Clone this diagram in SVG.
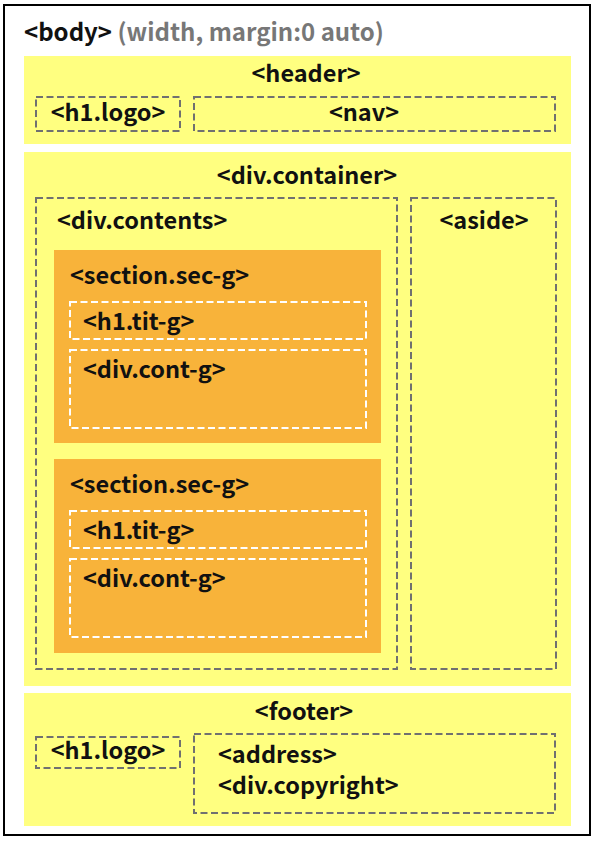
<svg xmlns="http://www.w3.org/2000/svg" width="595" height="842" viewBox="0 0 595 842">
<style>
text{font-family:"Noto Sans CJK KR","Noto Sans",sans-serif;font-weight:bold;font-size:23.5px;fill:#111}
.y{fill:#FFFF80}
.o{fill:#F8B33A}
.d{fill:none;stroke:#707070;stroke-width:2;stroke-dasharray:7 3.5}
.w{fill:none;stroke:#fff;stroke-width:2;stroke-dasharray:7 3.5}
.c{text-anchor:middle}
</style>
<rect x="0" y="0" width="595" height="842" fill="#fff"/>
<g id="body">
<rect x="4" y="5" width="586" height="830" fill="#fff" stroke="#000" stroke-width="2"/>
<text x="24" y="41" style="font-size:24px">&lt;body&gt; <tspan fill="#777">(width, margin:0 auto)</tspan></text>
</g>
<g id="header">
<rect class="y" x="24" y="56" width="547" height="88"/>
<text class="c" x="306" y="82">&lt;header&gt;</text>
</g>
<g id="header-logo">
<rect class="d" x="36" y="97" width="144" height="34"/>
<text class="c" x="108" y="121">&lt;h1.logo&gt;</text>
</g>
<g id="nav">
<rect class="d" x="194" y="97" width="361" height="34"/>
<text class="c" x="364" y="121">&lt;nav&gt;</text>
</g>
<g id="container">
<rect class="y" x="24" y="152" width="547" height="534"/>
<text class="c" x="307" y="184">&lt;div.container&gt;</text>
</g>
<g id="contents">
<rect class="d" x="36" y="198" width="361" height="471"/>
<text x="57" y="229">&lt;div.contents&gt;</text>
</g>
<g id="aside">
<rect class="d" x="411" y="198" width="145" height="471"/>
<text class="c" x="484" y="229">&lt;aside&gt;</text>
</g>
<g id="section1">
<rect class="o" x="54" y="250" width="327" height="193"/>
<text x="70" y="284">&lt;section.sec-g&gt;</text>
</g>
<g id="tit1">
<rect class="w" x="70" y="302" width="296" height="37"/>
<text x="83" y="330">&lt;h1.tit-g&gt;</text>
</g>
<g id="cont1">
<rect class="w" x="70" y="350" width="296" height="78"/>
<text x="83" y="378">&lt;div.cont-g&gt;</text>
</g>
<g id="section2">
<rect class="o" x="54" y="459" width="327" height="194"/>
<text x="70" y="493">&lt;section.sec-g&gt;</text>
</g>
<g id="tit2">
<rect class="w" x="70" y="511" width="296" height="37"/>
<text x="83" y="539">&lt;h1.tit-g&gt;</text>
</g>
<g id="cont2">
<rect class="w" x="70" y="559" width="296" height="78"/>
<text x="83" y="587">&lt;div.cont-g&gt;</text>
</g>
<g id="footer">
<rect class="y" x="24" y="693" width="547" height="133"/>
<text class="c" x="304" y="720">&lt;footer&gt;</text>
</g>
<g id="footer-logo">
<rect class="d" x="36" y="737" width="144" height="31"/>
<text class="c" x="108" y="759">&lt;h1.logo&gt;</text>
</g>
<g id="address">
<rect class="d" x="194" y="734" width="361" height="79"/>
<text x="218" y="763">&lt;address&gt;</text>
<text x="218" y="794">&lt;div.copyright&gt;</text>
</g>
<g id="connectors"/>
</svg>
